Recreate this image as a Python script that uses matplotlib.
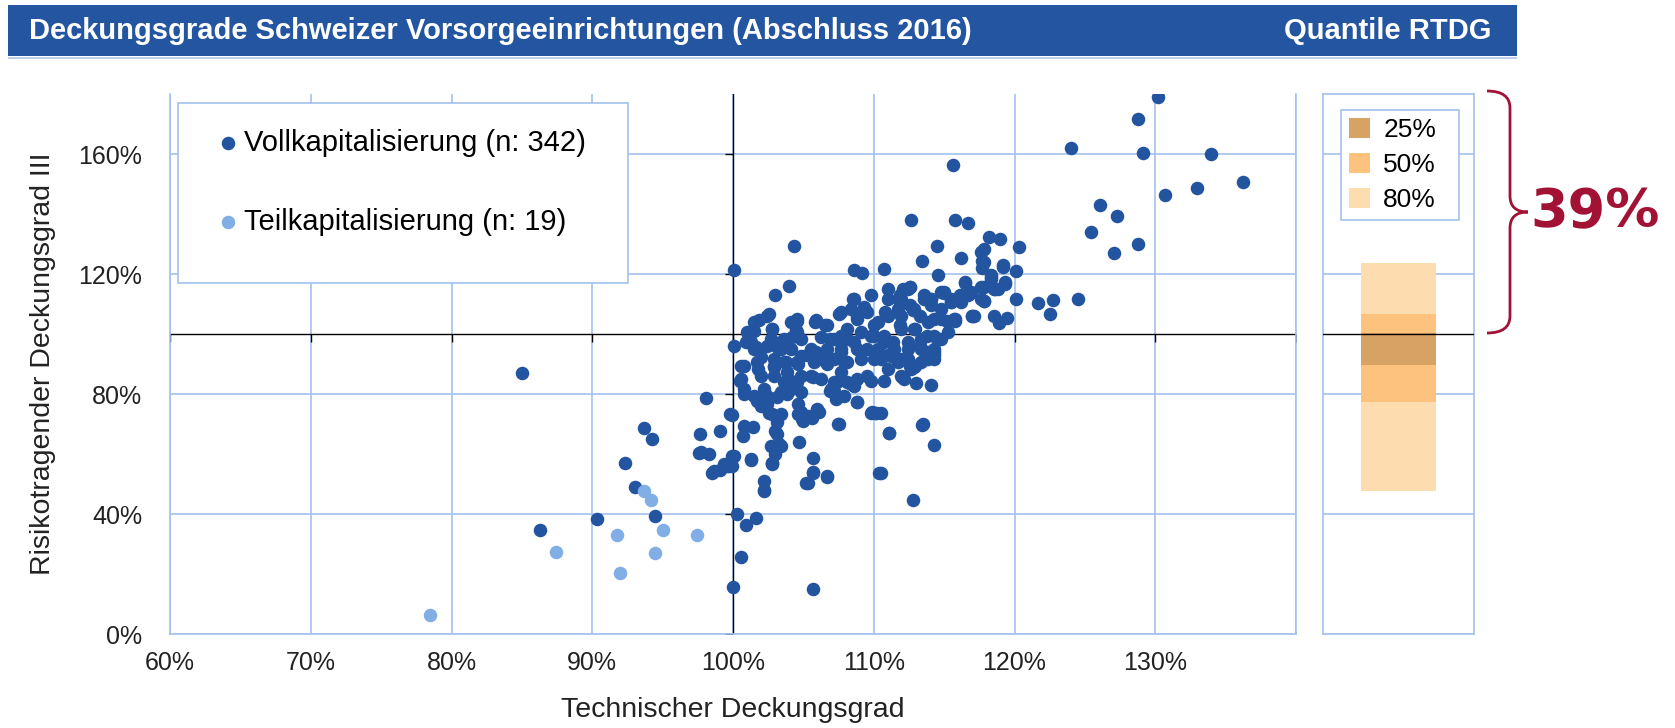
import matplotlib
matplotlib.use("Agg")
import matplotlib.pyplot as plt
from matplotlib.path import Path
from matplotlib.patches import PathPatch, Rectangle

plt.rcParams["font.family"] = ["Liberation Sans", "DejaVu Sans"]

# Vollkapitalisierung: technischer DG (x) / risikotragender DG III (y), in %
voll_x = [
    85.0, 98.05, 99.76, 93.67, 94.26, 97.65, 99.05, 92.36, 97.6, 98.3, 98.5, 99.1, 99.6, 99.95,
    101.25, 102.8, 102.2, 102.2, 93.07, 94.45, 90.35, 86.27, 100.26, 100.9, 101.6, 100.6, 100.0, 105.67,
    130.18, 128.75, 129.15, 133.97, 130.7, 133.0, 136.26, 126.1, 127.3, 128.75, 127.1, 124.0, 115.6, 125.4,
    112.63, 115.78, 116.7, 118.2, 118.98, 120.3, 114.48, 113.4, 116.2, 117.8, 117.7, 117.7, 119.2, 120.1,
    114.6, 118.3, 112.6, 116.5, 117.8, 118.6, 119.3, 115.0, 116.8, 117.8, 115.5, 120.1, 121.7, 122.7,
    122.5, 124.5, 117.0, 115.8, 118.9, 119.5, 113.6, 112.8, 114.05, 114.8, 112.1, 111.9, 114.6, 113.8,
    114.3, 112.9,
    112.0, 113.0, 114.05, 110.5, 111.1, 113.5, 114.3, 110.5, 112.8,
    109.8, 108.8, 109.8, 110.15, 107.45, 106.0, 105.3, 104.7, 105.7, 105.7, 105.3, 106.65, 101.25, 102.8,
    102.95, 103.3, 102.7, 102.2, 100.1, 99.95, 100.8, 101.4, 100.7, 99.95, 103.0, 103.1, 102.55, 104.6,
    104.9, 105.6, 106.1, 100.5, 100.8, 101.7, 102.4, 102.2, 103.1, 103.85, 104.6, 104.1, 105.7, 106.9,
    107.4, 108.4,
    104.3, 100.1, 108.6, 109.2, 102.96, 104.0, 108.5, 102.55, 101.84, 104.56, 105.86, 106.57, 107.5, 102.8,
    101.5, 104.45, 104.2, 100.07, 100.9, 101.6, 102.9, 103.8, 103.4, 104.8, 105.9, 106.7, 106.9, 107.65,
    108.1, 108.8, 109.3, 108.4, 109.8, 110.3, 109.8, 110.3, 108.8, 107.65, 107.9, 106.7, 105.75, 104.6,
    103.8, 102.9, 101.96, 100.8, 101.8, 102.9,
    110.7, 117.6, 119.15, 118.3, 119.3, 118.55, 117.6, 116.5, 116.1, 116.9, 117.8, 117.0, 115.8, 115.0,
    115.5, 114.8, 114.05, 113.6, 112.6, 111.9, 111.0, 110.8, 111.7, 112.6, 113.3, 114.3, 115.2, 111.9,
    112.9, 113.8, 114.6, 113.3, 112.4, 111.4, 110.7, 113.8, 111.2, 112.6, 111.7,
    100.54, 100.78, 101.49, 101.97, 102.44, 103.39, 104.10, 104.81, 104.58, 103.63, 102.92, 101.97, 101.73, 102.92,
    103.86, 104.81, 105.52, 106.23, 106.95, 107.18, 107.66, 108.13, 108.61, 108.84, 109.55, 110.98, 111.92, 112.64,
    113.82, 114.30, 111.92, 110.98, 110.03, 109.08, 108.13, 107.18, 106.23, 105.29, 104.58, 103.63, 100.54, 101.49,
    102.44, 103.15, 104.10, 105.52, 106.00, 106.71, 107.66, 108.13, 107.18, 106.23, 104.81, 103.63, 102.68, 101.26,
    101.02, 101.49, 102.44, 102.80, 103.39, 104.58, 104.10, 104.58, 105.88, 106.71, 107.66, 108.61, 108.84, 109.55,
    110.03, 110.98, 110.98, 111.92, 112.40, 112.87, 111.92, 111.92, 112.87, 113.82, 113.35, 114.30, 114.77, 114.06,
    114.77, 115.48, 116.19, 116.67, 117.61, 118.33, 117.85, 118.80, 118.56, 117.14, 115.72, 115.24, 114.30, 113.35,
    112.40, 111.45, 110.74, 110.03, 109.08, 108.61, 109.55, 110.50, 112.40, 113.35, 114.30, 112.87, 112.16, 110.74,
    107.89, 107.3, 107.18,
    97.7, 98.65, 99.35, 99.7, 103.4, 102.8, 103.15, 102.8, 103.4, 104.8, 106.0, 105.0, 108.8, 109.9,
    110.1, 107.5, 113.45, 111.1, 106.65, 105.67, 105.2, 110.4,
]
voll_y = [
    87.1, 78.6, 73.3, 68.7, 65.2, 66.7, 67.6, 57.2, 60.5, 60.2, 53.8, 54.9, 56.1, 59.4,
    58.1, 57.0, 51.0, 48.1, 49.2, 39.3, 38.5, 34.7, 40.2, 36.3, 38.8, 25.6, 15.7, 15.2,
    178.9, 171.8, 160.4, 160.0, 146.4, 148.6, 150.6, 143.0, 139.3, 129.9, 127.1, 162.0, 156.4, 134.1,
    137.9, 138.0, 136.9, 132.2, 131.6, 128.9, 129.3, 124.3, 125.2, 128.2, 124.2, 121.9, 122.9, 120.9,
    119.6, 119.6, 115.7, 117.2, 115.7, 115.2, 116.8, 113.7, 113.5, 110.9, 110.7, 111.8, 110.5, 111.5,
    106.8, 111.8, 106.0, 105.1, 103.8, 105.4, 111.8, 107.9, 109.6, 105.1, 115.2, 110.8, 98.4, 94.0,
    91.7, 89.5,
    85.6, 83.6, 83.2, 73.6, 67.0, 70.0, 63.0, 53.8, 44.6,
    84.3, 77.5, 73.6, 73.6, 70.0, 74.7, 72.8, 63.9, 58.6, 53.8, 50.5, 52.7, 58.3, 56.9,
    60.0, 63.3, 62.7, 47.7, 59.4, 56.1, 69.4, 68.9, 66.1, 73.1, 67.8, 70.6, 73.6, 73.3,
    71.7, 72.2, 73.9, 84.5, 80.0, 77.8, 76.7, 81.7, 78.9, 80.0, 76.7, 84.5, 85.6, 81.1,
    83.9, 83.4,
    129.2, 121.3, 121.3, 120.2, 113.2, 116.1, 111.8, 106.6, 104.8, 104.5, 104.2, 103.1, 106.8, 101.8,
    101.2, 101.5, 99.0, 96.2, 97.3, 95.6, 96.8, 97.9, 95.1, 92.8, 94.0, 92.8, 98.4, 99.5,
    101.8, 106.2, 109.0, 108.5, 112.9, 104.0, 99.5, 95.1, 95.1, 94.0, 90.6, 90.1, 90.6, 90.1,
    90.6, 91.7, 92.3, 89.5, 88.4, 89.0,
    121.8, 127.4, 122.4, 119.1, 117.4, 115.2, 115.7, 117.4, 112.9, 114.0, 111.2, 106.2, 104.5, 114.0,
    110.7, 108.5, 111.8, 112.9, 115.7, 112.9, 115.2, 107.4, 108.5, 109.6, 106.2, 105.1, 104.5, 102.9,
    101.8, 99.5, 98.4, 96.2, 95.1, 97.3, 99.5, 92.8, 92.8, 89.5, 90.6,
    85.0, 81.7, 79.5, 76.1, 79.5, 80.6, 81.7, 80.6, 83.9, 83.9, 86.2, 86.2, 90.6, 89.5,
    87.3, 86.2, 86.2, 85.0, 81.7, 83.9, 87.3, 83.9, 82.8, 85.0, 86.2, 88.4, 86.2, 88.4,
    91.7, 94.0, 91.7, 92.9, 91.7, 91.7, 90.6, 91.7, 91.7, 92.9, 90.6, 90.6, 89.5, 95.1,
    96.2, 95.6, 95.1, 95.1, 92.9, 95.1, 95.1, 98.4, 98.4, 99.0, 98.4, 98.4, 98.4, 97.3,
    100.7, 104.0, 106.2, 101.8, 97.3, 100.7, 104.0, 105.1, 104.6, 102.9, 107.3, 111.8, 105.1, 107.3,
    102.9, 106.2, 111.8, 111.8, 115.2, 108.5, 106.2, 101.8, 101.8, 104.0, 98.4, 99.5, 98.4, 111.8,
    114.0, 111.8, 110.7, 112.9, 111.8, 118.5, 124.1, 115.2, 106.2, 106.2, 105.1, 100.7, 95.1, 95.1,
    97.3, 95.1, 97.3, 99.5, 100.7, 97.3, 95.1, 91.7, 91.7, 90.6, 92.9, 89.0, 85.0, 84.5,
    79.5, 78.4, 81.2,
    60.6, 54.4, 56.6, 56.1, 62.7, 57.2, 66.7, 73.3, 73.3, 73.9, 75.0, 71.1, 77.3, 73.9,
    73.7, 70.0, 69.8, 67.2, 52.5, 54.0, 50.5, 53.8,
]

# Teilkapitalisierung
teil_x = [93.67, 94.14, 87.45, 91.77, 95.0, 97.46, 94.45, 91.96, 78.45]
teil_y = [47.7, 44.9, 27.4, 33.2, 34.7, 33.2, 27.1, 20.4, 6.3]

x_ticks = [60, 70, 80, 90, 100, 110, 120, 130, 140]
x_labels = ["60%", "70%", "80%", "90%", "100%", "110%", "120%", "130%", ""]
y_ticks = [0, 40, 80, 120, 160]
y_labels = ["0%", "40%", "80%", "120%", "160%"]

# Quantile RTDG: Band (unten, oben)
band_names = ["80%", "50%", "25%"]
band_low = [47.8, 77.4, 89.7]
band_high = [123.6, 106.6, 100.3]
band_colors = ["#FDDCB0", "#FDC27D", "#D6A365"]
share_above = "39%"

dark = "#22549F"
light = "#82AEE6"
grid = "#A3C2EE"
red = "#A11235"

W, H = 1675, 728
fig = plt.figure(figsize=(W / 100, H / 100), dpi=100)

# header bar
fig.patches.append(Rectangle((8 / W, 1 - 56 / H), 1509 / W, 51 / H, transform=fig.transFigure,
                             facecolor="#2355A1", edgecolor="none"))
fig.patches.append(Rectangle((8 / W, 1 - 59 / H), 1509 / W, 2 / H, transform=fig.transFigure,
                             facecolor="#BFD0EC", edgecolor="none"))
fig.text(29 / W, 1 - 31 / H, "Deckungsgrade Schweizer Vorsorgeeinrichtungen (Abschluss 2016)",
         color="white", fontsize=21, fontweight="bold", va="center", ha="left")
fig.text(1491 / W, 1 - 31 / H, "Quantile RTDG", color="white", fontsize=21,
         fontweight="bold", va="center", ha="right")

# scatter
ax = fig.add_axes([170 / W, 1 - 634.3 / H, 1126 / W, 540.3 / H])
ax.set_xlim(60, 140)
ax.set_ylim(0, 180)
ax.set_xticks(x_ticks)
ax.set_xticklabels(x_labels)
ax.set_yticks(y_ticks)
ax.set_yticklabels(y_labels)
ax.tick_params(length=0, labelsize=18, colors="#222222")
ax.tick_params(axis="y", pad=20)
ax.tick_params(axis="x", pad=12)
ax.grid(color=grid, lw=1.2, zorder=0)
ax.set_axisbelow(True)
for side in ["left", "right", "bottom"]:
    ax.spines[side].set_color(grid)
    ax.spines[side].set_linewidth(1.2)
ax.spines["top"].set_visible(False)

ax.axhline(100, color="black", lw=1, zorder=1)
ax.axvline(100, color="black", lw=1, zorder=1)
ax.plot(x_ticks, [100] * len(x_ticks), ls="none", marker=3, ms=6, mew=1, color="black", zorder=1)
ax.plot([100] * len(y_ticks), y_ticks, ls="none", marker=0, ms=6, mew=1, color="black", zorder=1)

ax.scatter(voll_x, voll_y, s=95, color=dark, lw=0, zorder=3, label="Vollkapitalisierung (n: 342)")
ax.scatter(teil_x, teil_y, s=95, color=light, lw=0, zorder=4, label="Teilkapitalisierung (n: 19)")

# legend box drawn separately so the padding can match
ax.add_patch(Rectangle((0.0075, 0.65), 0.3995, 0.334, transform=ax.transAxes, facecolor="white",
                       edgecolor=grid, lw=1.2, zorder=5))
leg = ax.legend(loc="upper left", bbox_to_anchor=(0.0395, 0.935), fontsize=21, frameon=False,
                borderpad=0, labelspacing=1.73, handlelength=0.9, handletextpad=0.1,
                borderaxespad=0)
leg.set_zorder(6)

ax.set_xlabel("Technischer Deckungsgrad", fontsize=20.5, color="#222222", va="center")
ax.xaxis.set_label_coords(0.5, -0.14)
ax.set_ylabel("Risikotragender Deckungsgrad III", fontsize=20.5, color="#222222", va="center")
ax.yaxis.set_label_coords(-0.113, 0.5)

# quantile panel
ax2 = fig.add_axes([1323 / W, 1 - 634.3 / H, 151 / W, 540.3 / H])
ax2.set_xlim(-1, 1)
ax2.set_ylim(0, 180)
ax2.set_yticks(y_ticks)
ax2.set_xticks([])
ax2.tick_params(length=0, labelleft=False)
ax2.grid(axis="y", color=grid, lw=1.2)
ax2.set_axisbelow(True)
for side in ax2.spines:
    ax2.spines[side].set_color(grid)
    ax2.spines[side].set_linewidth(1.2)
handles = []
for name, lo, hi, c in zip(band_names, band_low, band_high, band_colors):
    handles.append(ax2.bar(0, hi - lo, bottom=lo, width=1.0, color=c, label=name, zorder=2))
ax2.axhline(100, color="black", lw=1, zorder=3)
leg2 = ax2.legend(handles=handles[::-1], loc="upper left", bbox_to_anchor=(0.12, 0.97, 0.78, 0),
                  mode="expand", fontsize=19, frameon=True, fancybox=False, edgecolor=grid,
                  framealpha=1, borderpad=0.3, labelspacing=0.4, handlelength=0.8,
                  handleheight=0.8, handletextpad=0.5, borderaxespad=0)
leg2.get_frame().set_linewidth(1.2)


# brace + share above 100%
def px(x, y):
    return (x / W, 1 - y / H)


verts = [px(1487, 91), px(1510, 91), px(1510, 108), px(1510, 196), px(1510, 212), px(1528, 212),
         px(1528, 212), px(1510, 212), px(1510, 228), px(1510, 316), px(1510, 333), px(1487, 333)]
codes = [Path.MOVETO, Path.CURVE3, Path.CURVE3, Path.LINETO, Path.CURVE3, Path.CURVE3,
         Path.MOVETO, Path.CURVE3, Path.CURVE3, Path.LINETO, Path.CURVE3, Path.CURVE3]
fig.patches.append(PathPatch(Path(verts, codes), transform=fig.transFigure, facecolor="none",
                             edgecolor=red, lw=2))
fig.text(1530 / W, 1 - 212 / H, share_above, color=red, fontsize=39, fontweight="bold",
         family="DejaVu Sans", va="center", ha="left")

fig.savefig("out.png", dpi=100)
